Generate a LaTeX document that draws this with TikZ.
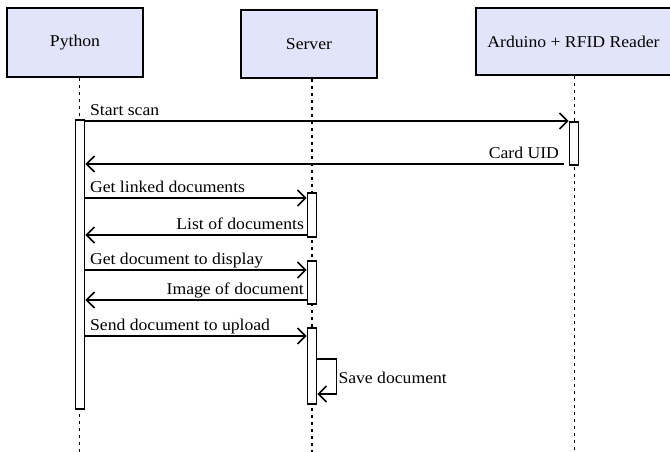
\documentclass[tikz,border=0pt]{standalone}
\usepackage{fontspec}
\setmainfont[FakeStretch=1.07]{Liberation Serif}
\usetikzlibrary{arrows.meta}
\definecolor{actorfill}{RGB}{226,228,252}
\begin{document}
\begin{tikzpicture}[x=1pt,y=-1pt,
    font=\fontsize{16.5}{19}\selectfont,
    actor/.style={draw, line width=1.6pt, fill=actorfill, inner sep=0pt},
    lifeline/.style={line width=1.6pt, dash pattern=on 3pt off 4pt},
    actbar/.style={draw, line width=1.6pt, fill=white, minimum width=9pt, inner sep=0pt},
    msg/.style={line width=1.6pt, -{Straight Barb[length=8pt,width=16pt,line width=1.6pt]}},
    reqlbl/.style={anchor=base west, inner sep=0pt, yshift=6pt, xshift=4pt},
    replbl/.style={anchor=base east, inner sep=0pt, yshift=6pt, xshift=-4pt}]
    \useasboundingbox (0,0) rectangle (670,452);

    \node[actor, minimum width=136pt, minimum height=69pt] (python) at (75,42.5) {Python};
    \node[actor, minimum width=136pt, minimum height=68pt] (server) at (309,44) {Server};
    \node[actor, minimum width=195pt, minimum height=67pt] (arduino) at (573.5,41.5) {Arduino + RFID Reader};

    \coordinate (bottom) at (0,452);
    \coordinate (pyx) at (79.5,0);
    \coordinate (srvx) at (312,0);
    \coordinate (ardx) at (574.5,0);
    \draw[lifeline] (python.south -| pyx) -- (bottom -| pyx);
    \draw[lifeline] (server.south -| srvx) -- (bottom -| srvx);
    \draw[lifeline] (arduino.south -| ardx) -- (bottom -| ardx);

    % activation bars
    \node[actbar, minimum height=289pt] (pybar) at (80,264.5) {};
    \node[actbar, minimum height=43pt] (ardbar) at (574,143.5) {};
    \node[actbar, minimum height=44pt] (srvbar1) at (312,215) {};
    \node[actbar, minimum height=43pt] (srvbar2) at (312,282.5) {};
    \node[actbar, minimum height=76pt] (srvbar3) at (312,366) {};

    % messages
    \coordinate (m1) at (0,121);
    \coordinate (m2) at (0,164);
    \coordinate (m3) at (0,198);
    \coordinate (m4) at (0,235);
    \coordinate (m5) at (0,270);
    \coordinate (m6) at (0,300);
    \coordinate (m7) at (0,336);
    \coordinate (s1) at (0,359);
    \coordinate (s2) at (0,394);

    \draw[msg] (pybar.east |- m1) -- (ardbar.west |- m1)
        node[reqlbl] at (pybar.east |- m1) {Start scan};
    \draw[msg] ([xshift=-5pt]ardbar.west |- m2) -- (pybar.east |- m2)
        node[replbl] at ([xshift=-5pt]ardbar.west |- m2) {Card UID};
    \draw[msg] (pybar.east |- m3) -- (srvbar1.west |- m3)
        node[reqlbl] at (pybar.east |- m3) {Get linked documents};
    \draw[msg] (srvbar1.west |- m4) -- (pybar.east |- m4)
        node[replbl, xshift=2pt] at (srvbar1.west |- m4) {List of documents};
    \draw[msg] (pybar.east |- m5) -- (srvbar2.west |- m5)
        node[reqlbl] at (pybar.east |- m5) {Get document to display};
    \draw[msg] (srvbar2.west |- m6) -- (pybar.east |- m6)
        node[replbl, xshift=2pt] at (srvbar2.west |- m6) {Image of document};
    \draw[msg] (pybar.east |- m7) -- (srvbar3.west |- m7)
        node[reqlbl] at (pybar.east |- m7) {Send document to upload};

    \draw[msg] (srvbar3.east |- s1) -- ++(19,0) coordinate (loop) |- (srvbar3.east |- s2);
    \node[anchor=west, inner sep=2pt] (savelbl) at ([yshift=-19pt]loop) {Save document};
\end{tikzpicture}
\end{document}
